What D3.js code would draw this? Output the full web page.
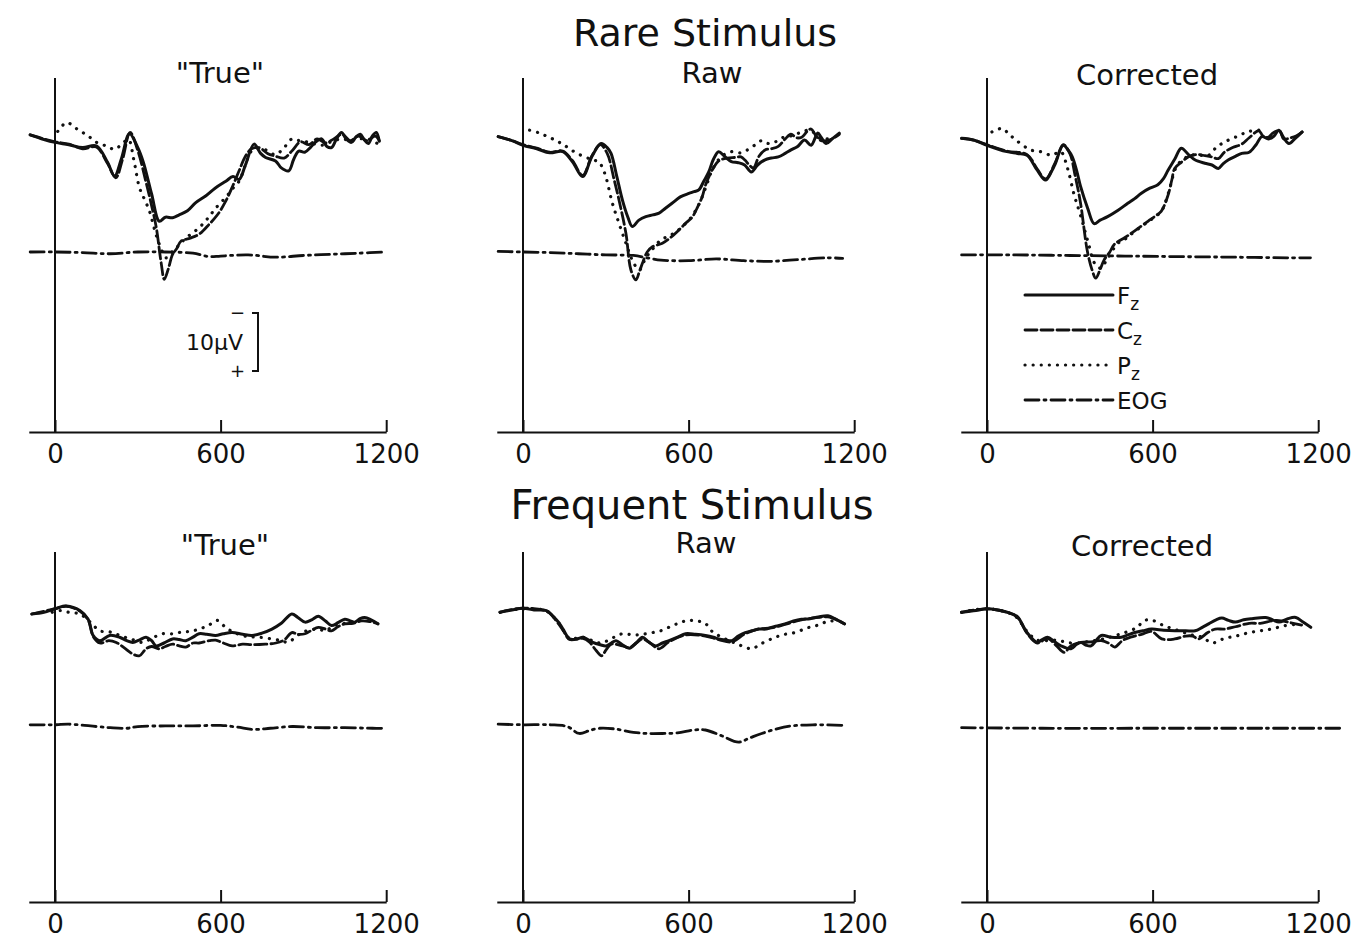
<!DOCTYPE html>
<html>
<head>
<meta charset="utf-8">
<script src="https://d3js.org/d3.v7.min.js"></script>
<style>
body { margin: 0; background: #fff; }
text { font-family: "DejaVu Sans", sans-serif; fill: #111; }
</style>
</head>
<body>
<svg width="1368" height="941"></svg>
<script>
// time (ms) / amplitude (uV, negative up) pairs
const tickValues = [0, 600, 1200];
const rowTitles = ["Rare Stimulus", "Frequent Stimulus"];
const colTitles = ['"True"', "Raw", "Corrected"];
const legendNames = ["F", "C", "P", "EOG"];

// Rare stimulus, "True"
const rareTrueFz = [[-90,-0.2],[-40,0.6],[0,1.1],[50,1.5],[100,2.0],[150,1.7],[190,4.5],[216,6.9],[240,4.0],[270,-0.4],[300,2.0],[320,4.5],[350,10],[378,14.7],[400,14.0],[426,14.1],[450,13.6],[480,12.9],[510,11.5],[547,10.3],[580,9.0],[619,7.8],[645,7.0],[667,7.5],[690,5.0],[721,1.4],[745,3.0],[763,3.7],[799,4.3],[820,5.5],[847,6.0],[865,4.0],[883,2.6],[905,2.8],[925,2.0],[945,1.0],[966,0.5],[985,1.8],[1002,2.0],[1020,0.5],[1038,-0.6],[1055,0.5],[1074,1.1],[1090,0.2],[1106,-0.3],[1120,0.6],[1135,1.3],[1150,0.0],[1164,-0.6],[1175,0.9]];
const rareTrueCz = [[-90,-0.2],[-40,0.5],[0,1.0],[50,1.4],[100,2.2],[150,1.9],[190,4.7],[220,7.2],[245,4.0],[272,-0.6],[300,2.5],[330,8],[350,12],[367,15.8],[385,22],[396,24.7],[410,23],[426,20.4],[440,19.5],[457,18.1],[490,17.6],[523,16.9],[559,15.2],[590,13.5],[619,11.2],[645,8.5],[667,6.0],[690,3.5],[712,2.2],[740,2.0],[770,3.0],[800,3.5],[830,3.8],[860,2.5],[890,1.0],[920,1.5],[950,0.5],[980,1.2],[1010,0.5],[1040,-0.3],[1070,0.8],[1100,0.0],[1130,0.8],[1160,0.0],[1175,0.8]];
const rareTruePz = [[10,-0.8],[42,-2.3],[80,-1.2],[120,0.0],[151,1.1],[190,1.8],[216,2.3],[240,1.5],[266,0.6],[285,4.0],[306,8.9],[325,11],[342,12.9],[366,17],[385,19.5],[402,21.0],[426,19.9],[450,18.8],[474,17.6],[505,16.5],[535,15.2],[560,13.8],[583,12.4],[620,10.5],[645,9.0],[667,7.8],[690,5.0],[712,2.6],[740,2.2],[763,2.4],[799,3.2],[830,2.0],[859,0.5],[885,0.8],[910,1.0],[935,1.3],[966,1.6],[1000,1.0],[1040,0.5],[1070,0.8],[1100,0.5],[1140,0.6],[1175,1.5]];
const rareTrueEog = [[-90,0],[0,0],[100,0.1],[200,0.3],[300,0],[400,0],[500,0.2],[560,0.8],[600,0.7],[700,0.5],[800,0.9],[900,0.6],[1000,0.4],[1100,0.2],[1200,0.0]];

// Rare stimulus, Raw
const rareRawFz = [[-90,0.1],[-40,0.8],[0,1.6],[50,2.2],[97,2.9],[144,2.7],[180,4.5],[216,7.0],[250,3.5],[283,1.3],[305,2.0],[319,3.0],[340,7.0],[360,11.0],[380,14.0],[396,15.6],[420,14.5],[445,13.9],[470,13.6],[493,13.3],[515,12.5],[540,11.6],[570,10.5],[601,9.9],[620,9.6],[637,9.3],[655,7.8],[673,6.2],[690,4.0],[709,2.7],[730,3.5],[755,4.4],[780,4.6],[803,5.0],[827,6.2],[850,5.0],[877,4.1],[900,3.8],[925,3.6],[950,3.0],[971,2.4],[995,1.8],[1020,0.7],[1044,1.6],[1068,-0.5],[1080,0.2],[1098,1.3],[1120,0.5],[1146,-0.5]];
const rareRawCz = [[-90,0.1],[-40,0.8],[0,1.5],[50,2.1],[97,2.8],[144,2.6],[180,4.3],[216,6.8],[250,3.4],[280,1.5],[305,3.0],[330,7.5],[350,11.5],[373,16.8],[391,23.1],[409,24.8],[421,23.5],[433,21.9],[450,20.0],[469,19.1],[505,18.5],[535,17.5],[565,16.2],[590,15.0],[613,14.0],[630,12.5],[649,10.5],[661,8.5],[673,7.1],[690,5.5],[709,4.3],[740,3.8],[769,3.7],[790,3.6],[805,4.2],[820,5.0],[835,5.5],[855,3.5],[877,2.4],[900,2.2],[925,1.8],[950,0.5],[971,-0.3],[990,0.3],[1010,0.2],[1030,-0.8],[1044,-1.2],[1062,0.0],[1080,0.8],[1100,0.8],[1120,0.5],[1146,-0.3]];
const rareRawPz = [[24,-1.0],[54,-0.6],[84,0.0],[120,0.8],[150,1.6],[192,2.9],[240,3.9],[260,4.2],[276,4.5],[288,5.5],[300,7.0],[324,11.6],[348,15.1],[373,18.5],[397,21.5],[421,23.1],[440,21.5],[457,20.2],[475,19.2],[493,18.2],[520,17.4],[550,16.7],[580,15.5],[610,14.0],[640,11.5],[665,8.5],[685,5.9],[720,3.5],[757,2.7],[790,2.9],[820,2.2],[845,1.4],[865,0.8],[890,1.3],[915,1.0],[940,0.3],[970,0.0],[1000,-0.5],[1040,-1.0],[1080,0.5],[1120,0.3]];
const rareRawEog = [[-90,-0.1],[0,0],[100,0.1],[200,0.3],[300,0.5],[400,0.6],[450,1.0],[500,1.4],[600,1.5],[700,1.2],[800,1.5],[900,1.6],[1000,1.3],[1100,1.0],[1158,1.1]];

// Rare stimulus, Corrected
const rareCorrFz = [[-92,0.4],[-49,0.7],[0,1.6],[36,2.2],[72,2.7],[110,3.0],[145,3.3],[182,5.9],[212,7.6],[235,6.0],[248,4.7],[276,1.6],[295,2.5],[309,3.6],[325,6.0],[339,8.7],[365,12.5],[388,15.1],[410,14.5],[437,13.9],[475,12.8],[510,11.6],[535,10.8],[558,9.9],[590,9.0],[619,8.4],[640,7.3],[656,5.9],[680,4.0],[704,2.1],[730,3.2],[753,4.1],[789,4.7],[815,5.0],[838,5.6],[855,4.8],[875,4.1],[900,3.5],[923,3.0],[950,2.8],[975,1.5],[996,0.1],[1020,0.5],[1040,0.0],[1057,-1.0],[1075,0.3],[1094,1.3],[1115,0.5],[1142,-0.7]];
const rareCorrCz = [[-92,0.4],[-49,0.7],[0,1.5],[72,2.6],[145,3.2],[182,5.7],[212,7.4],[248,4.5],[276,1.5],[300,3.0],[320,7.0],[339,11.6],[363,19.7],[380,23.0],[394,24.5],[410,23.0],[424,21.4],[445,20.0],[461,18.7],[500,17.5],[534,16.4],[583,14.7],[610,13.8],[631,13.0],[656,10.2],[670,7.5],[680,5.6],[705,4.5],[729,3.6],[760,3.2],[790,3.4],[815,3.6],[838,3.9],[860,2.8],[890,2.0],[923,1.4],[950,0.3],[985,-0.9],[1000,0.0],[1020,0.2],[1035,-0.5],[1060,-0.9],[1075,0.5],[1100,0.3],[1120,0.0],[1142,-0.7]];
const rareCorrPz = [[18,-0.7],[55,-1.3],[80,-0.3],[110,0.9],[158,2.4],[195,2.7],[231,3.3],[250,3.0],[268,2.7],[292,5.6],[316,10.2],[339,13.7],[369,18.8],[387,21.7],[400,22.5],[412,22.8],[437,21.1],[474,18.5],[500,17.8],[534,16.5],[583,14.8],[631,13.0],[656,10.0],[690,5.0],[729,3.5],[760,3.2],[800,3.4],[830,2.0],[862,1.0],[900,0.2],[950,-0.8],[985,-1.0]];
const rareCorrEog = [[-92,0.5],[100,0.5],[300,0.6],[500,0.7],[700,0.8],[900,0.9],[1100,1.0],[1172,1.0]];

// Frequent stimulus, "True"
const freqTrueFz = [[-84,0.0],[-40,-0.3],[0,-0.9],[42,-1.4],[90,-0.6],[120,0.9],[138,3.7],[162,4.6],[198,3.7],[234,4.0],[260,4.6],[282,4.9],[305,4.5],[330,4.0],[350,4.6],[366,5.5],[395,5.0],[426,4.3],[450,4.4],[474,4.6],[500,4.0],[522,3.4],[550,3.5],[582,3.7],[610,3.4],[642,3.2],[680,3.5],[714,3.7],[750,3.3],[786,2.6],[820,1.6],[858,0.0],[880,0.6],[906,1.4],[930,1.0],[954,0.4],[980,1.2],[1002,2.0],[1025,1.5],[1050,0.9],[1070,1.2],[1086,1.4],[1105,0.8],[1122,0.6],[1145,1.0],[1170,1.7]];
const freqTrueCz = [[-84,0.0],[0,-0.9],[42,-1.3],[90,-0.5],[120,1.0],[140,4.0],[162,5.0],[195,4.6],[222,4.9],[250,5.8],[282,6.9],[306,7.2],[330,6.0],[350,5.6],[378,6.0],[400,5.6],[426,5.2],[450,5.5],[474,5.7],[500,5.0],[522,5.0],[560,4.6],[582,4.5],[610,5.0],[642,5.5],[680,5.2],[714,5.3],[762,5.2],[800,5.0],[830,4.5],[858,3.2],[880,3.5],[906,3.4],[930,2.8],[954,2.3],[980,2.6],[1002,2.9],[1025,2.2],[1050,1.7],[1080,1.6],[1110,1.2],[1140,1.3],[1170,1.7]];
const freqTruePz = [[-10,-0.3],[20,-0.6],[50,-0.3],[90,0.0],[130,1.5],[162,2.9],[200,3.1],[240,3.8],[280,4.4],[318,4.9],[350,4.2],[390,3.4],[430,3.4],[460,3.1],[490,3.0],[522,2.6],[555,2.0],[588,1.1],[620,2.4],[660,3.4],[700,3.9],[740,4.0],[786,4.3],[820,4.6],[846,4.9],[870,4.0],[895,3.2],[920,2.8],[954,2.6],[980,2.9],[1010,2.0],[1040,1.7],[1070,1.4]];
const freqTrueEog = [[-90,0.1],[0,0.1],[50,0.0],[150,0.4],[200,0.6],[260,0.7],[300,0.4],[400,0.3],[500,0.3],[600,0.2],[660,0.5],[720,0.9],[780,0.7],[860,0.4],[950,0.6],[1050,0.6],[1150,0.7],[1194,0.7]];

// Frequent stimulus, Raw
const freqRawFz = [[-83,-0.3],[-40,-0.7],[0,-1.0],[40,-0.7],[85,-0.6],[109,0.4],[130,1.5],[145,2.6],[169,4.3],[195,4.3],[217,4.0],[235,4.4],[253,4.9],[280,5.3],[301,5.5],[320,5.0],[337,4.6],[360,5.3],[385,5.9],[410,5.0],[433,4.0],[455,4.8],[481,5.5],[505,5.0],[529,4.6],[560,4.0],[589,3.4],[625,3.5],[661,3.7],[690,4.0],[709,4.3],[735,4.5],[757,4.6],[780,3.8],[805,3.2],[830,2.9],[853,2.6],[880,2.6],[900,2.3],[925,2.0],[949,1.7],[980,1.2],[1009,0.9],[1040,0.8],[1070,0.5],[1105,0.3],[1130,0.8],[1141,1.1],[1165,1.7]];
const freqRawCz = [[-83,-0.3],[0,-1.0],[85,-0.5],[109,0.5],[145,2.8],[169,4.4],[217,4.2],[240,4.8],[265,6.3],[285,7.2],[301,6.2],[320,5.2],[360,5.5],[385,5.8],[410,5.0],[433,4.3],[460,5.0],[493,6.0],[529,4.8],[589,3.6],[661,3.8],[709,4.4],[757,4.8],[805,3.4],[853,2.6],[900,2.4],[949,1.8],[1009,1.0],[1070,0.6],[1105,0.5],[1141,1.1],[1165,1.7]];
const freqRawPz = [[-83,-0.3],[0,-0.9],[85,-0.5],[130,1.6],[169,4.2],[217,4.0],[280,5.0],[330,4.0],[361,3.4],[400,3.6],[433,3.5],[470,3.2],[505,2.8],[541,2.0],[570,1.5],[595,1.1],[630,1.2],[660,1.6],[685,3.0],[720,4.0],[757,4.8],[793,5.5],[829,6.0],[860,5.2],[900,4.3],[940,3.6],[985,3.2],[1030,2.4],[1070,1.9],[1110,1.2],[1141,1.4]];
const freqRawEog = [[-90,0.0],[0,0.1],[100,0.1],[160,0.4],[204,1.6],[240,1.1],[277,0.7],[330,0.8],[400,1.4],[450,1.6],[505,1.6],[560,1.5],[620,1.0],[661,1.0],[720,2.0],[781,3.1],[820,2.4],[865,1.6],[920,0.8],[973,0.3],[1050,0.1],[1160,0.2]];

// Frequent stimulus, Corrected
const freqCorrFz = [[-92,-0.3],[-40,-0.6],[0,-0.9],[73,-0.3],[109,0.4],[145,3.2],[182,4.9],[200,4.4],[219,4.0],[245,4.8],[268,5.5],[304,6.0],[325,5.2],[341,4.9],[360,5.4],[377,5.5],[395,4.6],[414,3.7],[450,4.0],[487,4.0],[510,3.6],[535,3.2],[565,2.9],[596,2.6],[640,2.8],[681,2.9],[720,2.9],[754,2.9],[780,2.3],[803,1.7],[830,1.0],[851,0.7],[875,1.1],[900,1.4],[930,1.0],[960,0.8],[1010,0.6],[1035,1.0],[1058,1.4],[1090,0.8],[1119,0.6],[1145,1.4],[1173,2.3]];
const freqCorrCz = [[-92,-0.3],[0,-0.9],[73,-0.3],[109,0.5],[145,3.3],[182,5.0],[219,4.2],[250,5.4],[280,6.6],[304,5.5],[340,4.9],[377,4.8],[414,4.6],[440,5.0],[463,5.7],[490,4.6],[520,4.0],[560,3.5],[596,3.0],[633,4.3],[680,4.3],[720,3.8],[745,3.8],[766,4.3],[800,3.2],[827,2.6],[860,2.6],[900,2.2],[950,1.6],[990,1.6],[1050,1.1],[1100,1.5],[1140,1.9]];
const freqCorrPz = [[-92,-0.3],[0,-0.9],[100,0.3],[145,3.0],[182,4.5],[250,4.5],[304,5.0],[360,4.8],[420,4.3],[480,3.5],[540,2.4],[572,1.1],[600,1.1],[640,2.0],[690,2.8],[740,3.6],[780,4.0],[815,5.0],[850,4.4],[880,4.0],[912,3.7],[950,3.2],[990,2.9],[1030,2.6],[1080,2.0],[1120,1.8]];
const freqCorrEog = [[-92,0.6],[200,0.7],[600,0.7],[1000,0.7],[1280,0.7]];

const panels = [
  { row: 0, col: 0, fz: rareTrueFz, cz: rareTrueCz, pz: rareTruePz, eog: rareTrueEog },
  { row: 0, col: 1, fz: rareRawFz, cz: rareRawCz, pz: rareRawPz, eog: rareRawEog },
  { row: 0, col: 2, fz: rareCorrFz, cz: rareCorrCz, pz: rareCorrPz, eog: rareCorrEog },
  { row: 1, col: 0, fz: freqTrueFz, cz: freqTrueCz, pz: freqTruePz, eog: freqTrueEog },
  { row: 1, col: 1, fz: freqRawFz, cz: freqRawCz, pz: freqRawPz, eog: freqRawEog },
  { row: 1, col: 2, fz: freqCorrFz, cz: freqCorrCz, pz: freqCorrPz, eog: freqCorrEog }
];

// layout
const svg = d3.select("svg");
const kx = 0.276;                 // px per ms
const pxPerUv = 5.8;
const colX0 = [55, 523, 987];     // pixel of t = 0
const rowY0 = [136, 614];         // pixel of 0 uV
const rowTop = [78, 552];
const rowAxis = [432, 902];
const eogOffset = [20, 19];       // EOG trace drawn lower, uV
const rowTitleX = [705, 692];
const rowTitleY = [46, 519];
const rowTitleSize = [38, 40];
const colTitleY = [[83, 83, 85], [555, 553, 556]];
const colTitleX = [[220, 712, 1147], [225, 706, 1142]];

const styles = {
  fz: { width: 3, dash: null },
  cz: { width: 2.8, dash: "12,4" },
  pz: { width: 3.2, dash: "0.1,8" },
  eog: { width: 2.8, dash: "14,5,2,5" }
};

function applyStyle(sel, s) {
  sel.attr("fill", "none")
    .attr("stroke", "#111")
    .attr("stroke-width", s.width)
    .attr("stroke-linecap", "round")
    .attr("stroke-linejoin", "round")
    .attr("stroke-dasharray", s.dash);
}

rowTitles.forEach((t, i) => {
  svg.append("text")
    .attr("x", rowTitleX[i]).attr("y", rowTitleY[i])
    .attr("text-anchor", "middle")
    .style("font-size", rowTitleSize[i] + "px")
    .text(t);
});

panels.forEach(p => {
  const x = d3.scaleLinear()
    .domain([-95, 1200])
    .range([colX0[p.col] - 95 * kx, colX0[p.col] + 1200 * kx]);
  const y = d3.scaleLinear()
    .domain([0, 10])
    .range([rowY0[p.row], rowY0[p.row] + 10 * pxPerUv]);

  const g = svg.append("g");

  g.append("text")
    .attr("x", colTitleX[p.row][p.col]).attr("y", colTitleY[p.row][p.col])
    .attr("text-anchor", "middle")
    .style("font-size", "29px")
    .text(colTitles[p.col]);

  // vertical line at stimulus onset
  g.append("line")
    .attr("x1", x(0)).attr("x2", x(0))
    .attr("y1", rowTop[p.row]).attr("y2", rowAxis[p.row])
    .attr("stroke", "#111").attr("stroke-width", 2);

  const ax = g.append("g")
    .attr("transform", `translate(0,${rowAxis[p.row]})`)
    .call(d3.axisBottom(x).tickValues(tickValues).tickFormat(d3.format("d"))
      .tickSizeInner(-12).tickSizeOuter(0).tickPadding(13));
  ax.select(".domain").attr("stroke", "#111").attr("stroke-width", 2);
  ax.selectAll(".tick line").attr("stroke", "#111").attr("stroke-width", 2);
  ax.selectAll(".tick text")
    .style("font-family", '"DejaVu Sans", sans-serif')
    .style("font-size", "26px")
    .attr("fill", "#111");

  const line = d3.line()
    .x(d => x(d[0]))
    .y(d => y(d[1]))
    .curve(d3.curveCatmullRom.alpha(0.5));
  const eogLine = d3.line()
    .x(d => x(d[0]))
    .y(d => y(d[1] + eogOffset[p.row]))
    .curve(d3.curveCatmullRom.alpha(0.5));

  applyStyle(g.append("path").attr("d", eogLine(p.eog)), styles.eog);
  applyStyle(g.append("path").attr("d", line(p.pz)), styles.pz);
  applyStyle(g.append("path").attr("d", line(p.cz)), styles.cz);
  applyStyle(g.append("path").attr("d", line(p.fz)), styles.fz);

  // 10 uV calibration bar, first panel only
  if (p.row === 0 && p.col === 0) {
    const top = 313, h = y(10) - y(0), bx = 258;
    g.append("path")
      .attr("d", `M${bx - 6},${top}H${bx}V${top + h}H${bx - 6}`)
      .attr("fill", "none").attr("stroke", "#111").attr("stroke-width", 2);
    g.append("text").attr("x", 243).attr("y", top + h / 2 + 8)
      .attr("text-anchor", "end").style("font-size", "22px")
      .text("10\u03BCV");
    g.append("text").attr("x", 245).attr("y", top + 6)
      .attr("text-anchor", "end").style("font-size", "18px").text("\u2212");
    g.append("text").attr("x", 245).attr("y", top + h + 6)
      .attr("text-anchor", "end").style("font-size", "18px").text("+");
  }

  // legend, rare corrected panel
  if (p.row === 0 && p.col === 2) {
    const keys = ["fz", "cz", "pz", "eog"];
    keys.forEach((k, i) => {
      const ly = 295 + i * 35;
      applyStyle(g.append("path").attr("d", `M1025,${ly}H1113`), styles[k]);
      const t = g.append("text").attr("x", 1117).attr("y", ly + 9)
        .style("font-size", "23px")
        .text(legendNames[i]);
      if (k !== "eog") {
        t.append("tspan").attr("dy", 6).style("font-size", "17px").text("z");
      }
    });
  }
});
</script>
</body>
</html>
